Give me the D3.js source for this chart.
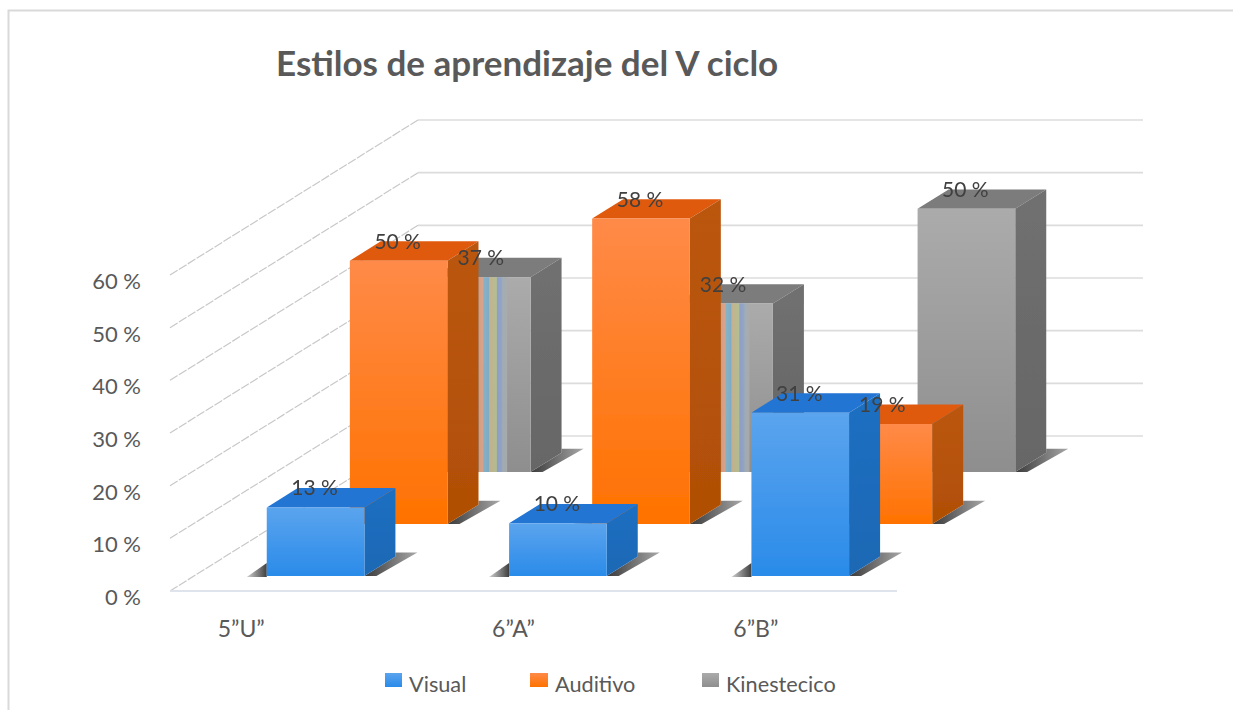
<!DOCTYPE html>
<html lang="es">
<head>
<meta charset="utf-8">
<title>Estilos de aprendizaje del V ciclo</title>
<script src="https://cdn.jsdelivr.net/npm/d3@7"></script>
<style>
html,body{margin:0;padding:0;background:#fff;overflow:hidden}
svg{display:block}
text{font-family:Lato,"Open Sans",sans-serif}
</style>
</head>
<body>
<svg id="chart" width="1233" height="710"></svg>
<script>
// ---- data ----
const chartTitle = "Estilos de aprendizaje del V ciclo";
const categories = ["5”U”", "6”A”", "6”B”"];
const seriesNames = ["Visual", "Auditivo", "Kinestecico"];
const visual = [13, 10, 31];
const auditivo = [50, 58, 19];
const kinestecico = [37, 32, 50];
const yTicks = [0, 10, 20, 30, 40, 50, 60];
const seriesValues = [visual, auditivo, kinestecico];

// ---- styles ----
const palette = {
  Visual:      {hi:"#5ba4ee", lo:"#2a8be9", top:"#2274d2", sideHi:"#1d6fc2", sideLo:"#1a68b4"},
  Auditivo:    {hi:"#ff8a48", lo:"#ff7200", top:"#e05a10", sideHi:"#bb560f", sideLo:"#b04f05"},
  Kinestecico: {hi:"#ababab", lo:"#8e8e8e", top:"#7b7b7b", sideHi:"#707070", sideLo:"#666666"}
};
const mottled = ["5”U”", "6”A”"];

// ---- oblique projection ----
const originX = 170, originY = 591, wallDX = 248, wallDY = 155;
const x = d3.scaleBand().domain(categories).range([originX, 897]);
const depth = d3.scalePoint().domain(seriesNames).range([0.097, 0.767]);
const height = d3.scaleLinear().domain([0, 60]).range([0, 316]);
const barDepth = 0.125;
const barInset = 0.30 * x.bandwidth(), barWidth = 0.403 * x.bandwidth();
const project = (px, t, v) => [px + wallDX * t, originY - wallDY * t - height(v)];

const svg = d3.select("#chart");
const defs = svg.append("defs");
const vGrad = (id, a, b) => {
  const g = defs.append("linearGradient").attr("id", id).attr("x1",0).attr("y1",0).attr("x2",0).attr("y2",1);
  g.append("stop").attr("offset","0%").attr("stop-color",a);
  g.append("stop").attr("offset","100%").attr("stop-color",b);
};
seriesNames.forEach(s => {
  vGrad("front-"+s, palette[s].hi, palette[s].lo);
  vGrad("side-"+s, palette[s].sideHi, palette[s].sideLo);
});
const shadow = defs.append("linearGradient").attr("id","shadow");
shadow.append("stop").attr("offset","0%").attr("stop-color","#3a3a3a");
shadow.append("stop").attr("offset","100%").attr("stop-color","#a8a8a8");
const shadowL = defs.append("linearGradient").attr("id","shadowL");
shadowL.append("stop").attr("offset","0%").attr("stop-color","#d0d0d0");
shadowL.append("stop").attr("offset","100%").attr("stop-color","#3f3f3f");
// smeared colour bands seen on the partly hidden grey bars
const stripes = defs.append("linearGradient").attr("id","stripes");
[[0,"#e09a80"],[0.14,"#d9a58a"],[0.17,"#86b4c8"],[0.34,"#7aaccb"],[0.38,"#c8b28c"],[0.62,"#b4c090"],[0.66,"#8f9dc9"],[0.80,"#8fa6c8"],[0.84,"#a0adb6"],[1,"#ababab"]]
  .forEach(([o,c]) => stripes.append("stop").attr("offset",o).attr("stop-color",c));
const blur = defs.append("filter").attr("id","soft").attr("x","-5%").attr("y","-5%").attr("width","110%").attr("height","110%");
blur.append("feGaussianBlur").attr("stdDeviation",0.5);

// ---- frame ----
const frame = d3.path();
frame.moveTo(8.5, 710); frame.lineTo(8.5, 10.5); frame.lineTo(1233, 10.5);
svg.append("path").attr("d", frame.toString()).attr("fill","none").attr("stroke","#d9d9d9").attr("stroke-width",2);

// ---- title ----
svg.append("text").attr("x",276).attr("y",76).attr("font-size",35).attr("font-weight",700).attr("fill","#595959").text(chartTitle);

// ---- walls / gridlines ----
const backRight = originX + wallDX + (x.range()[1] - x.range()[0]);
const grid = svg.append("g").attr("filter","url(#soft)");
yTicks.forEach(v => {
  const [lx, ly] = project(originX, 0, v);
  const [bx, by] = project(originX, 1, v);
  grid.append("line").attr("x1",lx).attr("y1",ly).attr("x2",bx).attr("y2",by)
    .attr("stroke","#c8c8c8").attr("stroke-width",1.2).attr("stroke-dasharray","9 1.5");
  grid.append("line").attr("x1",bx).attr("y1",by).attr("x2",backRight-2).attr("y2",by)
    .attr("stroke","#dcdcdc").attr("stroke-width",1.6);
});
const [fx, fy] = project(originX, 0, 0);
grid.append("line").attr("x1",fx).attr("y1",fy).attr("x2",x.range()[1]).attr("y2",fy)
  .attr("stroke","#dfe4ec").attr("stroke-width",2);

// ---- bars, back to front ----
const poly = pts => pts.map(p => p.join(",")).join(" ");
const bars = svg.append("g").attr("filter","url(#soft)");
const barRows = [];
seriesNames.forEach((s, si) => categories.forEach((c, ci) => barRows.push({s, c, v: seriesValues[si][ci]})));
const rows = [...seriesNames].reverse().flatMap(s => barRows.filter(d => d.s === s));

rows.forEach(d => {
  const L = x(d.c) + barInset, R = L + barWidth;
  const t0 = depth(d.s), t1 = t0 + barDepth;
  const fl0 = project(L, t0, 0), fr0 = project(R, t0, 0), br0 = project(R, t1, 0);
  const flT = project(L, t0, d.v), frT = project(R, t0, d.v), brT = project(R, t1, d.v), blT = project(L, t1, d.v);
  // floor shadows
  bars.append("polygon").attr("fill","url(#shadow)").attr("points", poly([
    fr0, br0, [br0[0], br0[1]-4], [br0[0]+22, br0[1]-4], [fr0[0]+12, fr0[1]]
  ]));
  bars.append("polygon").attr("fill","url(#shadowL)").attr("points", poly([
    [fl0[0]-20, fl0[1]+1], [fl0[0], fl0[1]-13], [fl0[0], fl0[1]+1]
  ]));
  // faces
  bars.append("polygon").attr("fill",palette[d.s].top).attr("points", poly([flT, blT, brT, frT]));
  bars.append("polygon").attr("fill",`url(#side-${d.s})`).attr("points", poly([frT, brT, br0, fr0]));
  bars.append("polygon").attr("fill",`url(#front-${d.s})`).attr("points", poly([flT, frT, fr0, fl0]));
  if (d.s === "Kinestecico" && mottled.includes(d.c)) {
    const a = barWidth * 0.47, b = barWidth * 0.76;
    bars.append("polygon").attr("fill","url(#stripes)").attr("opacity",0.92)
      .attr("points", poly([[flT[0]+a, flT[1]], [flT[0]+b, flT[1]], [fl0[0]+b, fl0[1]], [fl0[0]+a, fl0[1]]]));
  }
});

// ---- data labels ----
svg.append("g").selectAll("text").data(rows).join("text")
  .attr("x", d => x(d.c) + barInset + barWidth/2 + wallDX*depth(d.s) - 1)
  .attr("y", d => project(0, depth(d.s), d.v)[1] - 12)
  .attr("text-anchor","middle").attr("font-size",21).attr("fill","#404040")
  .text(d => d.v + " %");

// ---- axes ----
const yAxisScale = d3.scaleLinear().domain([0, 60]).range([originY + 6.5, originY + 6.5 - height(60)]);
const yAxis = svg.append("g").attr("transform","translate(141,0)")
  .call(d3.axisLeft(yAxisScale).tickValues(yTicks).tickSize(0).tickPadding(0).tickFormat(v => v + " %"));
yAxis.select(".domain").remove();
yAxis.selectAll("text").attr("font-size",22).attr("fill","#595959").style("font-family","Lato,'Open Sans',sans-serif");

const xAxis = svg.append("g").attr("transform",`translate(-20,${fy + 30})`)
  .call(d3.axisBottom(x).tickSize(0).tickPadding(0));
xAxis.select(".domain").remove();
xAxis.selectAll("text").attr("font-size",23).attr("fill","#595959").style("font-family","Lato,'Open Sans',sans-serif")
  .attr("dx", (d, i) => i === 0 ? -30 : 0);

// ---- legend ----
const legendX = d3.scaleOrdinal().domain(seriesNames).range([385, 530, 702]);
const legendSw = d3.scaleOrdinal().domain(seriesNames).range([17, 18, 17]);
const legend = svg.append("g").selectAll("g").data(seriesNames).join("g")
  .attr("transform", s => `translate(${legendX(s)},673)`);
legend.append("rect").attr("width", s => legendSw(s)).attr("height",14).attr("fill", s => `url(#front-${s})`);
legend.append("text").attr("x", s => legendSw(s) + 7).attr("y",19).attr("font-size",21.7).attr("fill","#595959").text(s => s);
</script>
</body>
</html>
